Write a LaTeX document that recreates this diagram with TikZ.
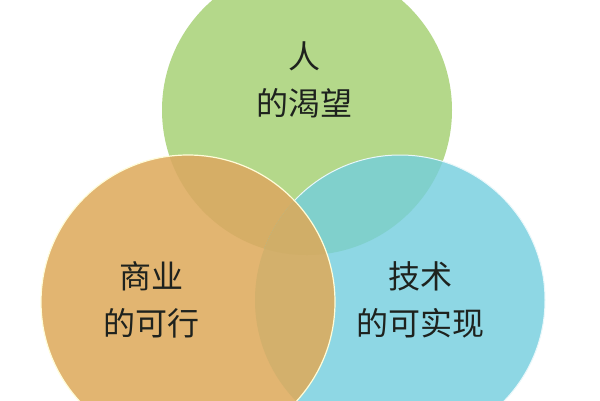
\documentclass[tikz,border=0pt]{standalone}
\usepackage{fontspec}
\newfontfamily\cjk{Noto Sans CJK SC}
\definecolor{cgreen}{HTML}{B4D88A}
\definecolor{corange}{HTML}{E2B571}
\definecolor{cblue}{HTML}{8ED7E4}
\definecolor{cgo}{HTML}{D6AE66}
\definecolor{cgb}{HTML}{80D0CC}
\definecolor{cob}{HTML}{D3B06C}
\definecolor{cgob}{HTML}{D0AE68}
\definecolor{ctext}{HTML}{1E221E}
\begin{document}
\begin{tikzpicture}[x=1pt,y=-1pt,
  lbl/.style={font=\cjk\fontsize{32}{47}\selectfont, text=ctext, align=center, inner sep=0pt},
  rim/.style={draw=white!85!yellow, line width=1.2pt}]
\useasboundingbox (0,0) rectangle (600,400);
\fill[white] (0,0) rectangle (600,400);
\def\green{(307,110) circle[radius=145]}
\def\orange{(188,302) circle[radius=147]}
\def\blue{(400,300) circle[radius=145]}
\fill[cgreen] \green;
\fill[cblue] \blue;
\fill[corange] \orange;
\begin{scope}
  \clip \green;
  \fill[cgo] \orange;
  \fill[cgb] \blue;
\end{scope}
\begin{scope}
  \clip \orange;
  \fill[cob] \blue;
  \clip \green;
  \fill[cgob] \blue;
\end{scope}
\begin{scope}[even odd rule]
  \clip (-10,-10) rectangle (610,410) \orange;
  \draw[draw=white!80!cblue, line width=1pt] \blue;
\end{scope}
\draw[rim] \orange;
\node[lbl] (want) at (304,80) {人\\的渴望};
\node[lbl] (biz) at (151,300) {商业\\的可行};
\node[lbl] (tech) at (420,300) {技术\\的可实现};
\end{tikzpicture}
\end{document}
